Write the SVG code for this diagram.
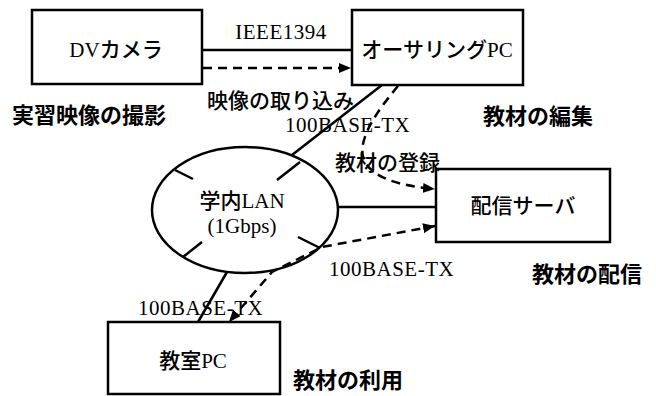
<svg xmlns="http://www.w3.org/2000/svg" width="656" height="396" viewBox="0 0 656 396">
<defs>
<style>
.box{fill:#fff;stroke:#000;stroke-width:2.5}
.ln{fill:none;stroke:#000;stroke-width:2.5}
.dash{fill:none;stroke:#000;stroke-width:2.5;stroke-dasharray:9 6}
.t{font-family:"Liberation Serif","Noto Sans CJK JP",serif;font-size:21px;fill:#000}
.jp{font-family:"Noto Sans CJK JP",sans-serif;font-weight:500}
.lbl{font-family:"Noto Sans CJK JP",sans-serif;font-size:22px;font-weight:700;fill:#000}
.mid{text-anchor:middle}
</style>
<marker id="ah" viewBox="0 0 12 10" refX="12" refY="5" markerWidth="12" markerHeight="10" markerUnits="userSpaceOnUse" orient="auto-start-reverse">
<path d="M0,0 L12,5 L0,10 Z" fill="#000"/>
</marker>
</defs>
<rect width="656" height="396" fill="#fff"/>
<g id="connectors">
<line class="ln" x1="203" y1="50" x2="352" y2="50"/>
<line class="dash" x1="203" y1="68" x2="351" y2="68" marker-end="url(#ah)"/>
<line class="ln" x1="382" y1="85" x2="292" y2="155"/>
<path class="dash" d="M398,86 C378,110 356,140 364,160 C372,178 400,186 435,189" marker-end="url(#ah)"/>
<line class="ln" x1="338" y1="207" x2="436" y2="207"/>
<path class="dash" d="M435,226 L322,247 L272,272 L229,322" marker-start="url(#ah)" marker-end="url(#ah)"/>
<line class="ln" x1="227" y1="272" x2="198" y2="322"/>
</g>
<g id="dv-camera">
<rect class="box" x="32" y="10" width="170" height="74"/>
<text class="t mid" x="116" y="57">DV<tspan class="jp">カメラ</tspan></text>
</g>
<g id="authoring-pc">
<rect class="box" x="352" y="10" width="171" height="75"/>
<text class="t mid" x="437" y="57"><tspan class="jp">オーサリング</tspan>PC</text>
</g>
<g id="lan">
<ellipse class="ln" cx="245" cy="210" rx="93" ry="63"/>
<line class="ln" x1="175" y1="170" x2="193" y2="179"/>
<line class="ln" x1="300" y1="162" x2="277" y2="180"/>
<line class="ln" x1="183" y1="257" x2="202" y2="242"/>
<line class="ln" x1="320" y1="248" x2="298" y2="237"/>
<text class="t mid" x="242" y="208"><tspan class="jp">学内</tspan>LAN</text>
<text class="t mid" x="242" y="233">(1Gbps)</text>
</g>
<g id="server">
<rect class="box" x="436" y="169" width="174" height="73"/>
<text class="t mid" x="523" y="213"><tspan class="jp">配信サーバ</tspan></text>
</g>
<g id="classroom-pc">
<rect class="box" x="108" y="322" width="172" height="72"/>
<text class="t mid" x="193" y="368"><tspan class="jp">教室</tspan>PC</text>
</g>
<g id="labels">
<text class="t mid" x="281" y="39" letter-spacing="0.5">IEEE1394</text>
<text class="t" x="207" y="108"><tspan class="jp">映像の取り込み</tspan></text>
<text class="t" x="285" y="132" letter-spacing="0.5">100BASE-TX</text>
<text class="t" x="335" y="170"><tspan class="jp">教材の登録</tspan></text>
<text class="t" x="329" y="276" letter-spacing="0.5">100BASE-TX</text>
<text class="t" x="138" y="315" letter-spacing="0.5">100BASE-TX</text>
<text class="lbl" x="12" y="123">実習映像の撮影</text>
<text class="lbl" x="483" y="124">教材の編集</text>
<text class="lbl" x="532" y="282">教材の配信</text>
<text class="lbl" x="293" y="388">教材の利用</text>
</g>
</svg>
